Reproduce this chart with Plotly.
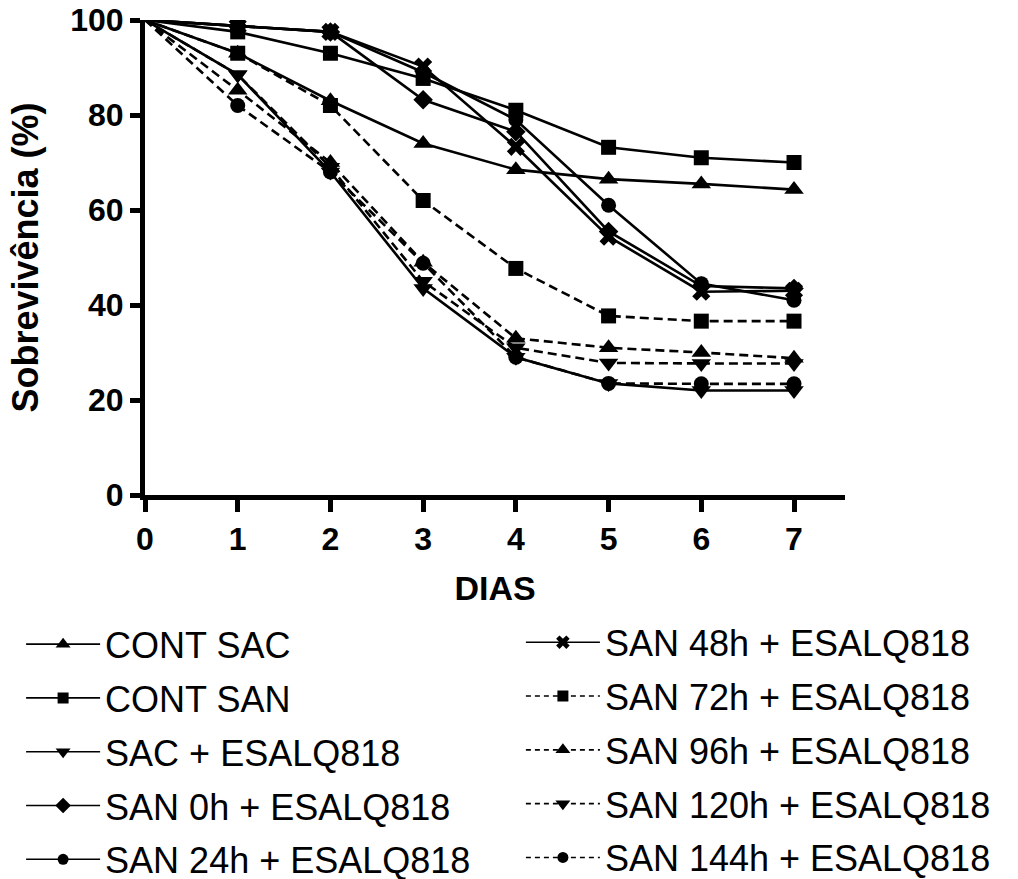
import plotly.graph_objects as go

days = [0, 1, 2, 3, 4, 5, 6, 7]
x_ticks = [0, 1, 2, 3, 4, 5, 6, 7]
y_ticks = [0, 20, 40, 60, 80, 100]

cont_sac = [100, 93, 83, 74, 68.5, 66.5, 65.5, 64.3]
cont_san = [100, 97.5, 93, 87.7, 81, 73.2, 71, 70]
sac_esalq = [100, 88.5, 68, 43.5, 29, 23.5, 22, 22]
san0_esalq = [100, 98.7, 97.5, 83.2, 76.5, 55.5, 44, 43.5]
san24_esalq = [100, 98.7, 97.5, 89, 79, 61, 44.5, 41]
san48_esalq = [100, 98.7, 97.5, 90.2, 73.3, 54.4, 42.8, 43]
san72_esalq = [100, 93, 82, 62, 47.7, 37.7, 36.6, 36.6]
san96_esalq = [100, 85.2, 70, 49, 33, 31, 30, 28.8]
san120_esalq = [100, 88.5, 69, 45, 31, 27.8, 27.7, 27.7]
san144_esalq = [100, 82, 68, 48.8, 29, 23.5, 23.4, 23.4]

names = ["CONT SAC", "CONT SAN", "SAC + ESALQ818", "SAN 0h + ESALQ818",
         "SAN 24h + ESALQ818", "SAN 48h + ESALQ818", "SAN 72h + ESALQ818",
         "SAN 96h + ESALQ818", "SAN 120h + ESALQ818", "SAN 144h + ESALQ818"]
values = [cont_sac, cont_san, sac_esalq, san0_esalq, san24_esalq,
          san48_esalq, san72_esalq, san96_esalq, san120_esalq, san144_esalq]

# styling
symbols = ["triangle-up", "square", "triangle-down", "diamond", "circle",
           "x", "square", "triangle-up", "triangle-down", "circle"]
msizes = [17, 15, 17, 15, 15, 16, 15, 17, 17, 15]
leg_sizes = [13, 11, 13, 12, 11, 12, 11, 13, 13, 11]
dashes = ["solid"] * 6 + ["9px,5px"] * 4
leg_dashes = ["solid"] * 6 + ["5px,4px"] * 4
legends = ["legend"] * 5 + ["legend2"] * 5

FONT = "Liberation Sans, Arial, sans-serif"

fig = go.Figure()
for i in range(9, -1, -1):
    sizes = [0] + [msizes[i]] * (len(days) - 1)
    fig.add_trace(go.Scatter(
        x=days, y=values[i], name=names[i], mode="lines+markers",
        line=dict(color="black", width=2.6, dash=dashes[i]),
        marker=dict(symbol=symbols[i], size=sizes, color="black",
                    opacity=1, line=dict(width=0)),
        showlegend=False,
    ))

# legend entries (no data, style only)
for i in range(10):
    fig.add_trace(go.Scatter(
        x=[None], y=[None], name=names[i], mode="lines+markers",
        line=dict(color="black", width=1.6, dash=leg_dashes[i]),
        marker=dict(symbol=symbols[i], size=leg_sizes[i], color="black",
                    opacity=1, line=dict(width=0)),
        legend=legends[i], legendgroup=names[i], legendrank=i + 1,
        showlegend=True,
    ))

legend_common = dict(
    yanchor="top", xanchor="left",
    font=dict(family=FONT, size=36, color="black"),
    itemwidth=74, tracegroupgap=4, itemsizing="trace",
    bgcolor="rgba(0,0,0,0)", traceorder="grouped",
)

fig.update_layout(
    width=1018, height=879,
    margin=dict(l=145, r=173, t=20, b=384, autoexpand=False),
    plot_bgcolor="white", paper_bgcolor="white",
    showlegend=True,
    legend=dict(x=-0.177, y=-0.251, **legend_common),
    legend2=dict(x=0.537, y=-0.247, **legend_common),
    xaxis=dict(
        range=[0, 7.55], tickvals=x_ticks, ticktext=[str(v) for v in x_ticks],
        showline=True, linewidth=5, linecolor="black", mirror=False,
        ticks="outside", ticklen=12, tickwidth=5, tickcolor="black",
        showgrid=False, zeroline=False,
        tickfont=dict(family=FONT, size=32, color="black", weight="bold"),
        title=dict(text="DIAS", standoff=21,
                   font=dict(family=FONT, size=34, color="black", weight="bold")),
    ),
    yaxis=dict(
        range=[0, 100], tickvals=y_ticks, ticktext=[str(v) for v in y_ticks],
        showline=True, linewidth=5, linecolor="black",
        ticks="outside", ticklen=10, tickwidth=5, tickcolor="black",
        showgrid=False, zeroline=False,
        tickfont=dict(family=FONT, size=32, color="black", weight="bold"),
        title=dict(text="Sobrevivência (%)", standoff=22,
                   font=dict(family=FONT, size=36, color="black", weight="bold")),
    ),
)

fig.write_html("out.html")
